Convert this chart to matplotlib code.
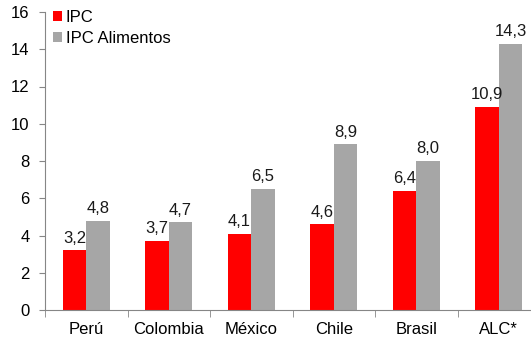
import numpy as np
import matplotlib.pyplot as plt

paises = ['Perú', 'Colombia', 'México', 'Chile', 'Brasil', 'ALC*']
ipc = [3.2, 3.7, 4.1, 4.6, 6.4, 10.9]
ipc_alimentos = [4.8, 4.7, 6.5, 8.9, 8.0, 14.3]

plt.rcParams['font.family'] = ['Liberation Sans', 'DejaVu Sans']
fs = 12

fig = plt.figure(figsize=(5.31, 3.4), dpi=100)
ax = fig.add_axes([45/531, 30/340, 495/531, 298/340])

x = np.arange(len(paises))
w = 0.285
b1 = ax.bar(x - w/2, ipc, w, color='#FF0000', label='IPC')
b2 = ax.bar(x + w/2, ipc_alimentos, w, color='#A6A6A6', label='IPC Alimentos')

# etiquetas de valor con coma decimal
for bars in (b1, b2):
    for r in bars:
        v = r.get_height()
        ax.text(r.get_x() + r.get_width()/2, v + 0.25, ('%.1f' % v).replace('.', ','),
                ha='center', va='bottom', fontsize=fs, color='#1a1a1a')

ax.set_ylim(0, 16)
ax.set_yticks(range(0, 17, 2))
ax.set_xlim(-0.5, len(paises) - 0.5)
ax.set_xticks(x)
ax.set_xticklabels(paises)
ax.set_xticks(np.arange(-0.5, len(paises)), minor=True)
ax.tick_params(axis='x', which='major', length=0, pad=9, labelsize=fs)
ax.tick_params(axis='x', which='minor', length=5, color='#868686')
ax.tick_params(axis='y', length=4, color='#868686', labelsize=fs, pad=7)

for s in ('top', 'right'):
    ax.spines[s].set_visible(False)
for s in ('left', 'bottom'):
    ax.spines[s].set_color('#868686')

ax.legend(loc='upper left', bbox_to_anchor=(-0.007, 1.045), frameon=False, fontsize=fs,
          handlelength=0.55, handleheight=0.55, handletextpad=0.2, labelspacing=0.35,
          borderaxespad=0.3)

fig.savefig('out.png', dpi=100)
